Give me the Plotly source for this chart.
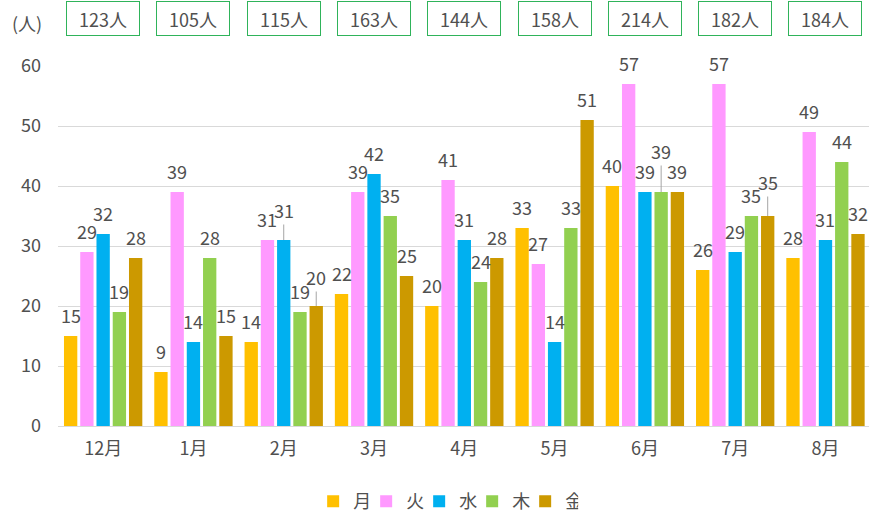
import plotly.graph_objects as go

months = ["12月", "1月", "2月", "3月", "4月", "5月", "6月", "7月", "8月"]
days = ["月", "火", "水", "木", "金"]
mon = [15, 9, 14, 22, 20, 33, 40, 26, 28]
tue = [29, 39, 31, 39, 41, 27, 57, 57, 49]
wed = [32, 14, 31, 42, 31, 14, 39, 29, 31]
thu = [19, 28, 19, 35, 24, 33, 39, 35, 44]
fri = [28, 15, 20, 25, 28, 51, 39, 35, 32]
series = [mon, tue, wed, thu, fri]
colors = ["#FFC000", "#FF99FF", "#00B0F0", "#92D050", "#CC9900"]
# labels lifted with a leader line: (month index, day index) -> offset px
leaders = {(2, 2): -30, (2, 4): -29, (6, 3): -41, (7, 4): -34}

FONT = "Noto Sans CJK JP, Noto Sans, sans-serif"
TXT = "#505050"
FS = 18
BARGAP = 0.1
slot = (1 - BARGAP) / len(days)

fig = go.Figure()
for name, vals, col in zip(days, series, colors):
    fig.add_trace(go.Bar(x=months, y=vals, name=name, marker_color=col,
                         marker_line_width=0))

annos = []
for j, vals in enumerate(series):
    for i, v in enumerate(vals):
        xpos = i + (j - 2) * slot
        if (i, j) in leaders:
            annos.append(dict(x=xpos, y=v, xref="x", yref="y", text=str(v),
                              showarrow=True, arrowhead=0, arrowwidth=1,
                              arrowcolor="#A6A6A6", ax=0, ay=leaders[(i, j)],
                              standoff=0, font=dict(size=FS, color=TXT, family=FONT)))
        else:
            annos.append(dict(x=xpos, y=v, xref="x", yref="y", text=str(v),
                              showarrow=False, yanchor="middle", yshift=21,
                              font=dict(size=FS, color=TXT, family=FONT)))

totals = [sum(s[i] for s in series) for i in range(len(months))]
for i, t in enumerate(totals):
    annos.append(dict(x=i, y=(430 - 17.5) / 364, xref="x", yref="paper", text=f"{t}人",
                      showarrow=False, yanchor="middle", width=72, height=33,
                      bordercolor="#2FB35A", borderwidth=1, borderpad=0,
                      bgcolor="white", font=dict(size=FS, color=TXT, family=FONT)))

annos.append(dict(x=(10 - 58) / 811, y=(430 - 23) / 364, xref="paper", yref="paper",
                  text="(人)", showarrow=False, xanchor="left", yanchor="middle",
                  font=dict(size=FS, color=TXT, family=FONT)))

fig.update_layout(
    width=869, height=520,
    margin=dict(l=58, r=0, t=66, b=90),
    paper_bgcolor="white", plot_bgcolor="white",
    barmode="group", bargap=BARGAP, bargroupgap=0.18,
    font=dict(family=FONT, size=FS, color=TXT),
    annotations=annos,
    legend=dict(orientation="h", x=0.478, xanchor="center", y=-0.21,
                yanchor="middle", font=dict(size=FS, color=TXT, family=FONT),
                entrywidth=8, traceorder="normal"),
    xaxis=dict(range=[-0.5, 8.482], showgrid=False, showline=False,
               ticks="", ticklabelstandoff=10,
               tickfont=dict(size=FS, color=TXT, family=FONT)),
    yaxis=dict(range=[0, 60], dtick=10, showgrid=True, gridcolor="#D9D9D9",
               gridwidth=1, zeroline=True, zerolinecolor="#D9D9D9",
               zerolinewidth=1, showline=False, ticks="", ticklabelstandoff=16,
               tickfont=dict(size=FS, color=TXT, family=FONT)),
)

fig.write_html("out.html", config={"displayModeBar": False},
               post_script="document.body.style.margin='0';")
